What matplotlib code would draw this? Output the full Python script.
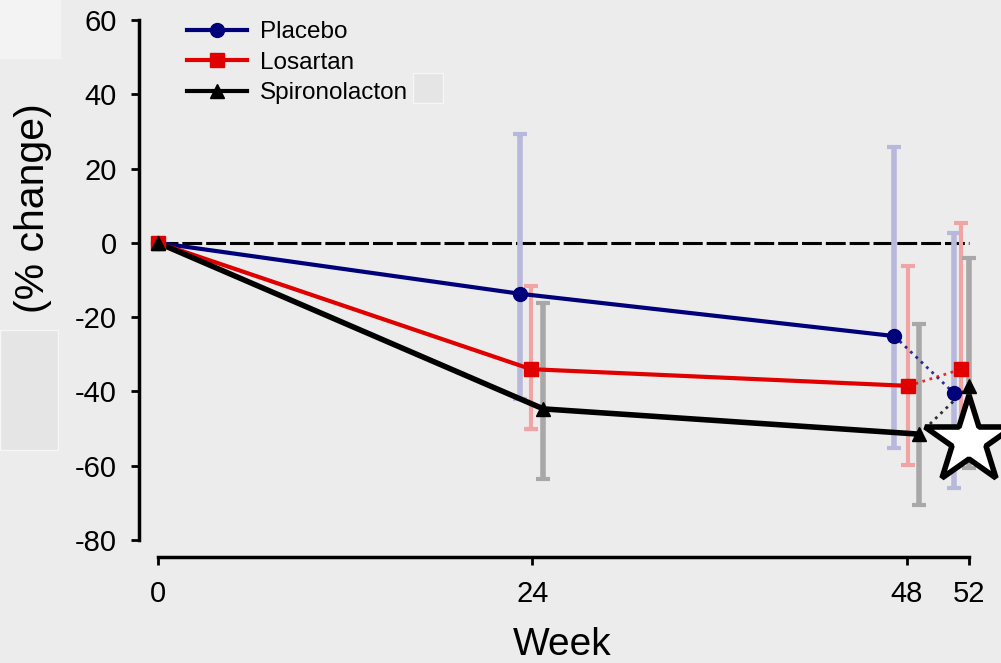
import numpy as np
import matplotlib.pyplot as plt
from matplotlib.patches import Rectangle

plt.rcParams['font.family'] = ['Liberation Sans', 'DejaVu Sans']
plt.rcParams['axes.unicode_minus'] = False

# weeks (small offsets so the groups do not overlap)
placebo_x = [0, 23.2, 47.2, 51.0]
losartan_x = [0, 23.9, 48.1, 51.5]
spiro_x = [0, 24.7, 48.8, 52.0]

placebo_y = [0, -13.7, -25.1, -40.4]
losartan_y = [0, -34.0, -38.5, -34.0]
spiro_y = [0, -44.7, -51.5, -38.5]

# error bar ends (upper, lower)
placebo_hi = [0, 29.4, 25.8, 2.7]
placebo_lo = [0, -42.0, -55.3, -66.0]
losartan_hi = [0, -11.6, -6.2, 5.4]
losartan_lo = [0, -50.1, -59.8, -58.0]
spiro_hi = [0, -16.2, -21.8, -4.0]
spiro_lo = [0, -63.6, -70.6, -60.6]

xticks = [0, 24, 48, 52]
yticks = [-80, -60, -40, -20, 0, 20, 40, 60]
star_x, star_y = 52.0, -53.4

bg = '#ececec'
fig = plt.figure(figsize=(10.01, 6.63), dpi=100, facecolor=bg)
ax = fig.add_axes([0.1389, 0.1855, 0.845, 0.7955], facecolor=bg)

series = [
    ('Placebo', placebo_x, placebo_y, placebo_hi, placebo_lo, '#00007a', '#b8b8dc', 'o', 3, 4),
    ('Losartan', losartan_x, losartan_y, losartan_hi, losartan_lo, '#e00000', '#f0a4a4', 's', 3, 3),
    ('Spironolacton', spiro_x, spiro_y, spiro_hi, spiro_lo, '#000000', '#a8a8a8', '^', 4, 4),
]

ax.plot([0, 52], [0, 0], color='black', lw=2.2, ls=(0, (6.5, 1.3)), zorder=2)

for name, x, y, hi, lo, col, ecol, mk, lw, elw in series:
    x = np.array(x); y = np.array(y)
    err = [y[1:] - np.array(lo[1:]), np.array(hi[1:]) - y[1:]]
    ax.errorbar(x[1:], y[1:], yerr=err, fmt='none', ecolor=ecol,
                elinewidth=elw, capsize=5, capthick=3, zorder=3)
    ax.plot(x[:3], y[:3], color=col, lw=lw, zorder=4)
    ax.plot(x[2:], y[2:], color=col, lw=2, ls=':', zorder=4, alpha=0.8)
    ax.plot(x, y, ls='none', marker=mk, color=col, ms=10, zorder=5)
    ax.plot([], [], color=col, lw=3, marker=mk, ms=10, label=name)

ax.plot([star_x], [star_y], marker='*', ms=66, mfc='white', mec='black',
        mew=4, ls='none', zorder=6, clip_on=False)

for s in ['top', 'right']:
    ax.spines[s].set_visible(False)
ax.spines['left'].set_linewidth(2.5)
ax.spines['bottom'].set_linewidth(2.5)
ax.spines['bottom'].set_position(('outward', 12))
ax.spines['left'].set_bounds(-80, 60)
ax.spines['bottom'].set_bounds(0, 52)

ax.set_xlim(-1.22, 53)
ax.set_ylim(-80, 62)
ax.set_xticks(xticks)
ax.set_yticks(yticks)
ax.tick_params(width=2, length=6, direction='out', pad=10, labelsize=21)
ax.tick_params(axis='x', pad=11)

ax.set_xlabel('Week', fontsize=28, labelpad=13.5)
fig.text(33 / 1001, 1 - 208 / 663, '(% change)', rotation=90, fontsize=29.5,
         ha='center', va='center')

leg = ax.legend(loc='upper left', bbox_to_anchor=(0.031, 1.025), frameon=False,
                fontsize=17.5, handlelength=2.47, handletextpad=0.53,
                labelspacing=0.35)

# light boxes pasted over the original picture
fig.patches.append(Rectangle((0, 1 - 58 / 663), 60 / 1001, 58 / 663,
                             transform=fig.transFigure, color='#f3f3f3', zorder=10))
fig.patches.append(Rectangle((0, 1 - 450 / 663), 58 / 1001, 120 / 663,
                             transform=fig.transFigure, fc='#e5e5e5', ec='#f6f6f6',
                             lw=1, zorder=10))
fig.patches.append(Rectangle((413 / 1001, 1 - 103 / 663), 30 / 1001, 30 / 663,
                             transform=fig.transFigure, fc='#e5e5e5', ec='#f6f6f6',
                             lw=1, zorder=10))

fig.savefig('out.png', dpi=100, facecolor=bg)
